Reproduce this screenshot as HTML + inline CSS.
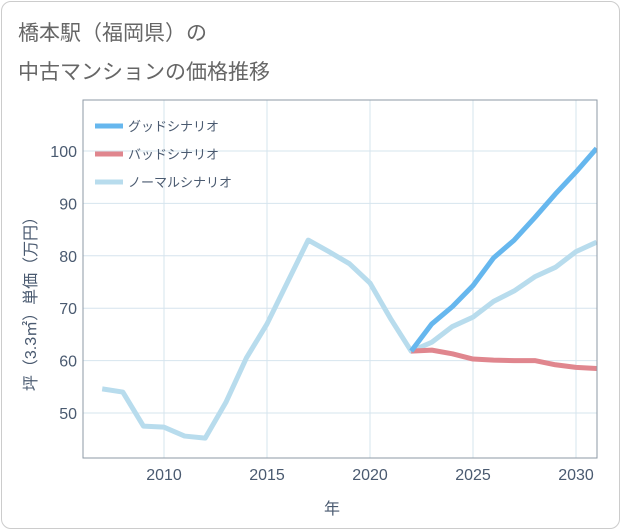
<!DOCTYPE html>
<html><head><meta charset="utf-8"><style>
body{margin:0;background:#fff;font-family:"Liberation Sans","Noto Sans CJK JP",sans-serif;}
#card{position:absolute;left:1px;top:1px;width:617px;height:526px;border:1px solid #ccc;border-radius:10px;background:#fff;}
svg{position:absolute;left:0;top:0}
</style></head><body>
<div id="card"></div>
<svg id="c" width="621" height="530">
<text x="18" y="40" font-size="21" fill="#666">橋本駅（福岡県）の</text>
<text x="18" y="79" font-size="21" fill="#666">中古マンションの価格推移</text>
<g id="grid"></g><g id="series"></g><g id="frame"></g><g id="legend"></g>
<text x="332" y="514" font-size="16" fill="#4a5a70" text-anchor="middle">年</text>
<text transform="translate(36,300) rotate(-90)" font-size="16" fill="#4a5a70" text-anchor="middle">坪（3.3㎡）単価（万円）</text>
</svg>
<script>
const years=[2007,2008,2009,2010,2011,2012,2013,2014,2015,2016,2017,2018,2019,2020,2021,2022,2023,2024,2025,2026,2027,2028,2029,2030,2031];
const normal=[54.6,54,47.5,47.3,45.6,45.2,52,60.5,67,75,83,80.8,78.5,74.8,68,61.8,63.5,66.5,68.3,71.3,73.3,76,77.8,80.8,82.6];
const goodYears=[2022,2023,2024,2025,2026,2027,2028,2029,2030,2031];
const good=[61.8,67,70.3,74.3,79.6,83,87.3,91.8,96,100.5];
const bad=[61.8,62,61.3,60.3,60.1,60,60,59.2,58.7,58.5];
const xTicks=[2010,2015,2020,2025,2030];
const yTicks=[50,60,70,80,90,100];
const L=83,R=597,T=100,B=458;
const x=v=>164+(v-2010)*20.6;
const y=v=>413-(v-50)*5.24;
const NS="http://www.w3.org/2000/svg";
function mk(t,a,p){const e=document.createElementNS(NS,t);for(const k in a)e.setAttribute(k,a[k]);p.appendChild(e);return e;}
const g=document.getElementById('grid');
xTicks.forEach(v=>{const l=mk('line',{x1:x(v),x2:x(v),y1:T,y2:B,stroke:'#d6e4ee'},g);


const t=mk('text',{x:x(v),y:B+22,'font-size':16,fill:'#4a5a70','text-anchor':'middle'},g);t.textContent=v;

});
yTicks.forEach(v=>{const l=mk('line',{x1:L,x2:R,y1:y(v),y2:y(v),stroke:'#d6e4ee'},g);


const t=mk('text',{x:L-6,y:y(v)+6,'font-size':16,fill:'#4a5a70','text-anchor':'end'},g);t.textContent=v;

});
const s=document.getElementById('series');
function line(xs,vs,col,name){const d=xs.map((v,i)=>(i?'L':'M')+x(v)+','+y(vs[i])).join(' ');
const p=mk('path',{d:d,fill:'none',stroke:col,'stroke-width':5,'stroke-linejoin':'round','clip-path':'url(#clip)'},s);

}
const defs=mk('defs',{},s);const cp=mk('clipPath',{id:'clip'},defs);mk('rect',{x:L,y:T,width:R-L,height:B-T},cp);
line(years,normal,'#b8dced','normal-scenario-line');
line(goodYears,bad,'#e0868e','bad-scenario-line');
line(goodYears,good,'#66b7ee','good-scenario-line');
const fr=mk('rect',{x:L,y:T,width:R-L,height:B-T,fill:'none',stroke:'#8e9aa6','stroke-width':1},document.getElementById('frame'));


const lg=document.getElementById('legend');
[['グッドシナリオ','#66b7ee'],['バッドシナリオ','#e0868e'],['ノーマルシナリオ','#b8dced']].forEach((e,i)=>{
const yy=126+i*28;
const l=mk('line',{x1:95,x2:123,y1:yy,y2:yy,stroke:e[1],'stroke-width':5},lg);


const t=mk('text',{x:128,y:yy+5,'font-size':13,fill:'#4a5a70'},lg);t.textContent=e[0];

});
</script>
</body></html>
